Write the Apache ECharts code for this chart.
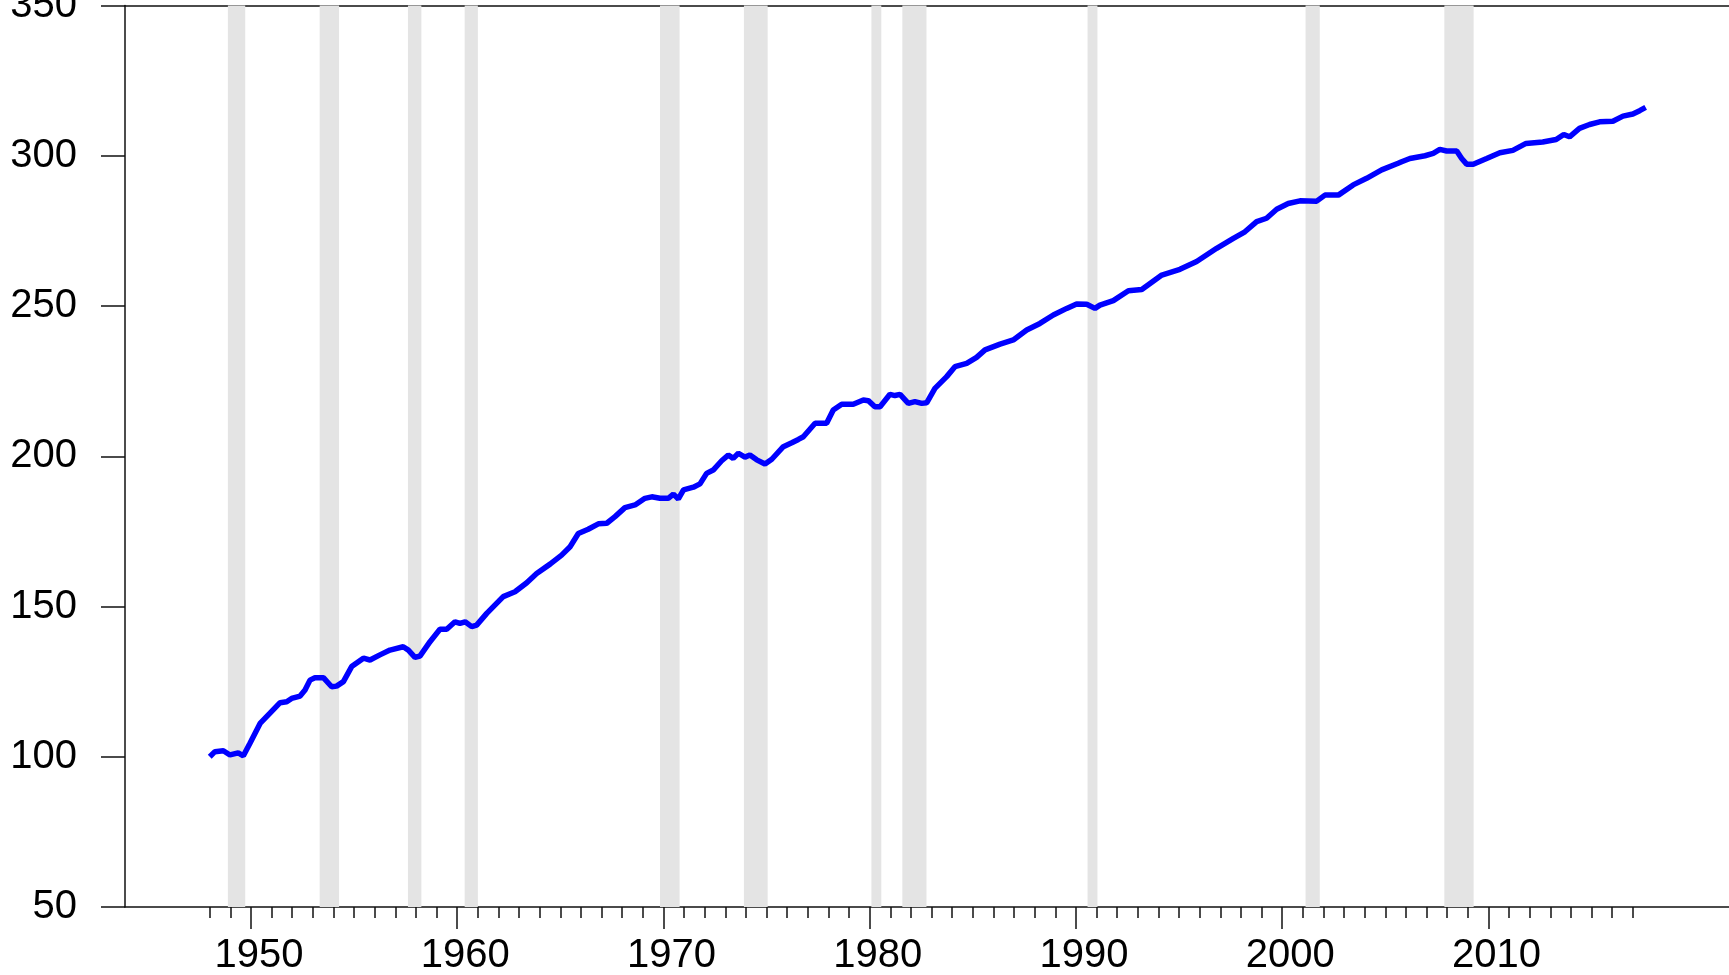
<!DOCTYPE html>
<html>
<head>
<meta charset="utf-8">
<script src="https://cdn.jsdelivr.net/npm/echarts@6/dist/echarts.min.js"></script>
<style>
html,body{margin:0;padding:0;background:#fff;}
#chart{width:1729px;height:975px;}
</style>
</head>
<body>
<div id="chart"></div>
<script>
// Index values (1948 = 100)
var years = [
  1948.00,1948.25,1948.66,1948.98,1949.38,1949.63,1949.95,1950.44,1950.92,1951.41,
  1951.73,1951.97,1952.38,1952.62,1952.86,1953.10,1953.51,1953.91,1954.15,1954.48,
  1954.88,1955.45,1955.77,1956.25,1956.74,1957.38,1957.63,1957.95,1958.19,1958.68,
  1959.16,1959.49,1959.89,1960.13,1960.38,1960.70,1960.94,1961.43,1961.99,1962.23,
  1962.80,1963.37,1963.85,1964.50,1965.06,1965.47,1965.87,1966.35,1966.84,1967.25,
  1967.65,1968.13,1968.62,1969.10,1969.43,1969.83,1970.23,1970.48,1970.72,1970.97,
  1971.45,1971.77,1972.09,1972.41,1972.82,1973.14,1973.38,1973.63,1973.95,1974.19,
  1974.52,1974.92,1975.25,1975.81,1976.22,1976.54,1976.78,1977.35,1977.91,1978.23,
  1978.64,1979.20,1979.69,1979.93,1980.25,1980.50,1980.98,1981.22,1981.47,1981.87,
  1982.19,1982.52,1982.76,1983.16,1983.73,1984.13,1984.70,1985.18,1985.59,1986.32,
  1986.96,1987.61,1988.25,1988.90,1989.55,1990.03,1990.52,1990.92,1991.16,1991.81,
  1992.54,1993.19,1994.16,1995.04,1995.85,1996.82,1997.63,1998.19,1998.76,1999.24,
  1999.73,2000.29,2000.86,2001.67,2002.07,2002.72,2003.44,2004.09,2004.82,2005.62,
  2005.79,2006.19,2006.92,2007.32,2007.64,2007.97,2008.46,2008.70,2008.94,2009.26,
  2009.91,2010.55,2011.18,2011.82,2012.63,2013.28,2013.65,2013.93,2014.41,2014.90,
  2015.39,2016.03,2016.52,2017.00,2017.33,2017.62
];
var values = [
  100.0,101.7,102.0,100.6,101.3,100.3,104.5,111.1,114.5,118.0,
  118.3,119.4,120.2,122.2,125.5,126.3,126.3,123.3,123.5,125.0,
  130.0,132.8,132.2,133.9,135.5,136.6,135.5,133.1,133.5,138.3,
  142.4,142.4,144.9,144.4,144.9,143.3,143.8,147.7,151.6,153.3,
  154.9,157.9,161.0,164.1,167.1,169.9,174.3,175.7,177.5,177.7,
  179.9,182.9,183.8,186.0,186.5,186.0,186.0,187.4,185.8,188.8,
  189.7,190.8,194.3,195.4,198.5,200.4,199.3,201.0,199.7,200.4,
  198.8,197.4,199.0,203.2,204.5,205.6,206.5,211.0,211.0,215.4,
  217.3,217.3,218.7,218.5,216.5,216.5,220.6,220.2,220.6,217.6,
  218.2,217.6,217.8,222.6,226.5,229.8,230.9,232.9,235.4,237.3,
  238.7,242.0,244.2,247.0,249.2,250.7,250.6,249.2,250.3,251.8,
  255.1,255.5,260.3,262.2,264.8,269.2,272.5,274.7,278.1,279.2,
  282.2,284.1,285.0,284.9,286.9,286.9,290.3,292.5,295.3,297.5,
  298.0,299.1,300.0,300.8,302.1,301.6,301.6,299.1,297.2,297.2,
  299.1,301.0,301.8,304.1,304.6,305.4,307.1,306.3,309.1,310.4,
  311.3,311.5,313.2,313.9,315.0,316.1
];
// Recession shading (start, end) in fractional years
var recStart = [1948.88,1953.33,1957.61,1960.36,1969.83,1973.90,1980.08,1981.58,1990.56,2001.13,2007.86];
var recEnd   = [1949.72,1954.27,1958.26,1961.00,1970.78,1975.05,1980.56,1982.75,1991.04,2001.82,2009.28];
// Axis ticks
var majorTicks = [1950,1960,1970,1980,1990,2000,2010];
var yTicks = [50,100,150,200,250,300,350];
var minorTicks = [];
for (var yr = 1948; yr <= 2017; yr++) minorTicks.push(yr);

var X_MIN = 1943.891, X_MAX = 2021.661;

var lineData = years.map(function(y, i){ return [y, values[i]]; });
var areas = recStart.map(function(s, i){ return [{xAxis: s}, {xAxis: recEnd[i]}]; });

var FONT = '"Liberation Sans", Arial, sans-serif';
var AXC = '#111111';

var chart = echarts.init(document.getElementById('chart'), null, {renderer: 'canvas'});
chart.setOption({
  animation: false,
  backgroundColor: '#ffffff',
  grid: {left: 125, right: 0, top: 5.5, bottom: 68, containLabel: false, outerBoundsMode: 'none'},
  xAxis: [
    {
      type: 'value', min: X_MIN, max: X_MAX, position: 'bottom',
      splitLine: {show: false},
      axisLine: {show: true, onZero: false, lineStyle: {color: AXC, width: 1.5}},
      axisTick: {show: true, inside: false, length: 22, customValues: majorTicks, lineStyle: {color: AXC, width: 1.5}},
      axisLabel: {show: true, customValues: majorTicks, margin: 29, padding: [0, 0, 0, 16], color: '#000', fontSize: 40, fontFamily: FONT,
        formatter: function(v){ return String(Math.round(v)); }}
    },
    {
      type: 'value', min: X_MIN, max: X_MAX, position: 'bottom',
      splitLine: {show: false},
      axisLine: {show: false, onZero: false},
      axisTick: {show: true, inside: false, length: 11, customValues: minorTicks, lineStyle: {color: AXC, width: 1.5}},
      axisLabel: {show: false}
    },
    {
      type: 'value', min: X_MIN, max: X_MAX, position: 'top',
      splitLine: {show: false},
      axisLine: {show: true, onZero: false, lineStyle: {color: AXC, width: 1.5}},
      axisTick: {show: false},
      axisLabel: {show: false}
    }
  ],
  yAxis: {
    type: 'value', min: 50, max: 350, interval: 50,
    splitLine: {show: false},
    axisLine: {show: true, onZero: false, lineStyle: {color: AXC, width: 1.5}},
    axisTick: {show: true, inside: false, length: 24, lineStyle: {color: AXC, width: 1.5}},
    axisLabel: {show: true, margin: 48, color: '#000', fontSize: 40, fontFamily: FONT}
  },
  series: [
    {
      type: 'line', xAxisIndex: 0, data: [], z: 1, silent: true,
      markArea: {silent: true, itemStyle: {color: '#e4e4e4'}, data: areas}
    },
    {
      type: 'line', xAxisIndex: 0, data: lineData, z: 5,
      showSymbol: false, smooth: false,
      lineStyle: {color: '#0000ff', width: 5.5}
    }
  ]
});
</script>
</body>
</html>
